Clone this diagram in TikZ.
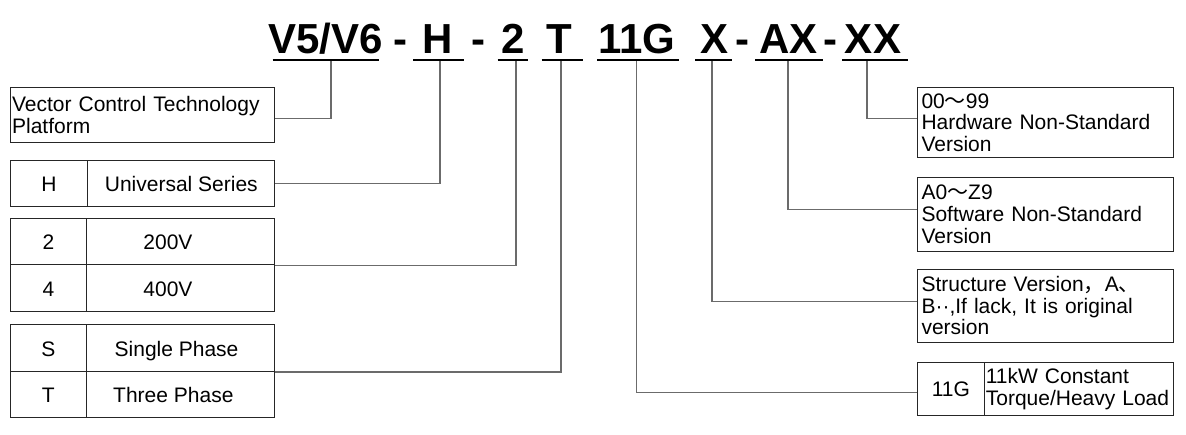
\documentclass[tikz,border=0pt]{standalone}
\usepackage{fontspec}
\setmainfont{Liberation Sans}
\newfontfamily\cjk{Noto Sans CJK SC}
\begin{document}
\begin{tikzpicture}[x=1pt,y=-1pt,
  cellbox/.style={draw=black!85,line width=1pt,inner sep=0pt,anchor=north west,
    font=\fontsize{21}{21.6}\selectfont},
  onecell/.style={cellbox,text height=19.9pt,text depth=4.2pt},
  leftbox/.style={cellbox,align=left,inner xsep=#1},
  title/.style={anchor=base,inner sep=0pt,font=\bfseries\fontsize{42}{42}\selectfont},
  uline/.style={line width=2.4pt,black},
  conn/.style={line width=1.2pt,black!58}]
\useasboundingbox (0,0) rectangle (1186,434);
% title
\node[title] (tV)  at (325.5,53.3) {V5/V6};
\node[title] (d1)  at (400,53.3) {-};
\node[title] (tH)  at (438,53.3) {H};
\node[title] (d2x) at (478,53.3) {-};
\node[title] (t2)  at (513.5,53.3) {2};
\node[title] (tT)  at (559.5,53.3) {T};
\node[title] (t11) at (637,53.3) {11G};
\node[title] (tX)  at (714,53.3) {X};
\node[title] (d3)  at (742,53.3) {-};
\node[title] (tAX) at (788.5,53.3) {AX};
\node[title] (d4)  at (830.5,53.3) {-};
\node[title] (tXX) at (873,53.3) {XX};
% underlines
\draw[uline] (272.5,60) -- (379,60);
\draw[uline] (413,60) -- (464,60);
\draw[uline] (497.5,60) -- (528,60);
\draw[uline] (541.5,60) -- (582.5,60);
\draw[uline] (597.3,60) -- (679.3,60);
\draw[uline] (695.3,60) -- (731.5,60);
\draw[uline] (755,60) -- (823,60);
\draw[uline] (842,60) -- (908,60);
\coordinate (uV) at (331,61);
\coordinate (uH) at (440,61);
\coordinate (u2) at (516,61);
\coordinate (uT) at (561,61);
\coordinate (u11) at (636.7,61);
\coordinate (uX) at (712,61);
\coordinate (uAX) at (788,61);
\coordinate (uXX) at (867,61);
% left boxes
\node[leftbox=2pt,text width=260pt,minimum height=55.3pt] (box1) at (9.6,87)
  {Vector Control Technology\\Platform};
\node[onecell,minimum width=77.7pt,minimum height=46.3pt] (hc) at (9.6,160) {H};
\node[onecell,minimum width=187pt,minimum height=46.3pt] (hd) at (87.3,160) {Universal Series};
\node[onecell,minimum width=76.5pt,minimum height=46pt] (c2) at (9.6,218.3) {2};
\node[onecell,minimum width=188.3pt,minimum height=46pt] (v2) at (86.1,218.3) {200V\hspace*{25.6pt}};
\node[onecell,minimum width=76.5pt,minimum height=46.7pt] (c4) at (9.6,264.3) {4};
\node[onecell,minimum width=188.3pt,minimum height=46.7pt] (v4) at (86.1,264.3) {400V\hspace*{25.6pt}};
\node[onecell,minimum width=76.5pt,minimum height=46.7pt] (cS) at (9.6,324.3) {S};
\node[onecell,minimum width=188.3pt,minimum height=46.7pt] (pS) at (86.1,324.3) {Single Phase\hspace*{8.4pt}};
\node[onecell,minimum width=76.5pt,minimum height=46.3pt] (cT) at (9.6,371) {T};
\node[onecell,minimum width=188.3pt,minimum height=46.3pt] (pT) at (86.1,371) {Three Phase\hspace*{14.8pt}};
% right boxes
\node[leftbox=4pt,text width=248pt,minimum height=70.6pt] (r1) at (917,86.7)
  {00{\cjk ～}99\\Hardware Non-Standard\\Version};
\node[leftbox=4pt,text width=248pt,minimum height=74.3pt] (r2) at (917,176.7)
  {A0{\cjk ～}Z9\\Software Non-Standard\\Version};
\node[leftbox=4pt,text width=248pt,minimum height=72.7pt] (r3) at (917,269)
  {Structure Version{\cjk ，}A{\cjk 、}\\B··,If lack, It is original\\version};
\node[onecell,minimum width=66.8pt,minimum height=53.3pt] (g1) at (917,361.7) {11G};
\node[leftbox=1.5pt,text width=186.2pt,minimum height=53.3pt] (g2) at (983.8,361.7)
  {11kW Constant\\Torque/Heavy Load};
% connectors
\draw[conn] (uV) |- ([yshift=-3.3pt]box1.east);
\draw[conn] (uH) |- (hd.east);
\draw[conn] (u2) |- (v2.south east);
\draw[conn] (uT) |- (pS.south east);
\draw[conn] (u11) |- ([yshift=-3.3pt]g1.west);
\draw[conn] (uX) |- ([yshift=4.6pt]r3.west);
\draw[conn] (uAX) |- ([yshift=4.5pt]r2.west);
\draw[conn] (uXX) |- ([yshift=4.3pt]r1.west);
\end{tikzpicture}
\end{document}
